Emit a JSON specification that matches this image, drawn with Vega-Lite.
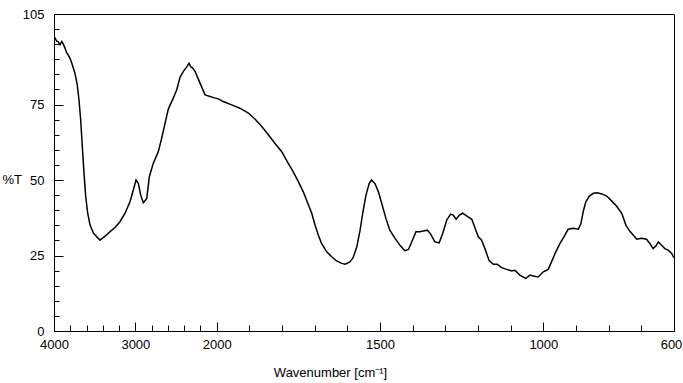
{
  "$schema": "https://vega.github.io/schema/vega-lite/v6.json",
  "width": 620,
  "height": 317,
  "autosize": "none",
  "padding": {"left": 54, "top": 14, "right": 9, "bottom": 52},
  "background": "white",
  "config": {
    "view": {"stroke": "black", "strokeWidth": 1},
    "font": "Liberation Sans",
    "axis": {"labelFont": "Liberation Sans", "titleFont": "Liberation Sans", "labelColor": "black", "titleColor": "black", "domainColor": "black", "tickColor": "black", "grid": false, "labelFontSize": 13, "titleFontSize": 13, "titleFontWeight": "normal", "labelOverlap": false, "labelFlush": false, "labelBound": false}
  },
  "data": {"values": [
    {"w": 4000, "t": 96.3}, {"w": 3988, "t": 97.0}, {"w": 3967, "t": 96.0}, {"w": 3947, "t": 95.8}, {"w": 3926, "t": 94.8}, {"w": 3905, "t": 95.9},
    {"w": 3886, "t": 95.0}, {"w": 3865, "t": 93.7}, {"w": 3844, "t": 92.1}, {"w": 3824, "t": 91.4}, {"w": 3803, "t": 90.3}, {"w": 3782, "t": 88.8},
    {"w": 3763, "t": 87.1}, {"w": 3742, "t": 85.3}, {"w": 3714, "t": 81.5}, {"w": 3693, "t": 76.6},
    {"w": 3672, "t": 69.9}, {"w": 3652, "t": 61.1}, {"w": 3631, "t": 52.2}, {"w": 3610, "t": 44.5}, {"w": 3586, "t": 39.0},
    {"w": 3557, "t": 35.1}, {"w": 3517, "t": 32.5}, {"w": 3475, "t": 31.2}, {"w": 3434, "t": 30.1}, {"w": 3373, "t": 31.4},
    {"w": 3311, "t": 32.9}, {"w": 3250, "t": 34.3}, {"w": 3189, "t": 36.2}, {"w": 3127, "t": 39.0}, {"w": 3066, "t": 42.8},
    {"w": 3025, "t": 46.7}, {"w": 2992, "t": 50.0}, {"w": 2964, "t": 48.9}, {"w": 2934, "t": 45.0}, {"w": 2902, "t": 42.5},
    {"w": 2860, "t": 43.9}, {"w": 2828, "t": 51.1}, {"w": 2779, "t": 55.6}, {"w": 2718, "t": 59.4}, {"w": 2676, "t": 63.9},
    {"w": 2635, "t": 68.8}, {"w": 2595, "t": 73.5}, {"w": 2533, "t": 77.2}, {"w": 2491, "t": 79.9}, {"w": 2451, "t": 84.0},
    {"w": 2410, "t": 86.0}, {"w": 2368, "t": 87.5}, {"w": 2340, "t": 88.7}, {"w": 2321, "t": 87.6}, {"w": 2295, "t": 87.1},
    {"w": 2266, "t": 86.0}, {"w": 2205, "t": 82.1}, {"w": 2143, "t": 78.2}, {"w": 2082, "t": 77.7}, {"w": 2040, "t": 77.3}, {"w": 1995, "t": 76.9},
    {"w": 1980, "t": 76.0}, {"w": 1954, "t": 74.9}, {"w": 1929, "t": 73.8}, {"w": 1903, "t": 72.2}, {"w": 1883, "t": 70.2},
    {"w": 1862, "t": 67.7}, {"w": 1842, "t": 65.0}, {"w": 1822, "t": 62.2}, {"w": 1801, "t": 59.4}, {"w": 1784, "t": 56.1},
    {"w": 1766, "t": 52.8}, {"w": 1750, "t": 49.5}, {"w": 1735, "t": 46.1}, {"w": 1723, "t": 42.8}, {"w": 1709, "t": 39.0},
    {"w": 1699, "t": 35.1}, {"w": 1689, "t": 31.8}, {"w": 1679, "t": 29.0}, {"w": 1663, "t": 26.2}, {"w": 1648, "t": 24.6},
    {"w": 1633, "t": 23.2}, {"w": 1617, "t": 22.4}, {"w": 1607, "t": 22.1}, {"w": 1592, "t": 22.9}, {"w": 1582, "t": 24.4},
    {"w": 1571, "t": 27.9}, {"w": 1561, "t": 33.4}, {"w": 1553, "t": 39.0}, {"w": 1543, "t": 45.0}, {"w": 1533, "t": 48.9},
    {"w": 1526, "t": 50.0}, {"w": 1515, "t": 48.7}, {"w": 1505, "t": 46.1}, {"w": 1495, "t": 42.3}, {"w": 1482, "t": 37.3},
    {"w": 1470, "t": 33.4}, {"w": 1454, "t": 30.7}, {"w": 1439, "t": 28.4}, {"w": 1424, "t": 26.6}, {"w": 1413, "t": 27.0},
    {"w": 1403, "t": 29.5}, {"w": 1390, "t": 32.9}, {"w": 1378, "t": 32.9}, {"w": 1368, "t": 33.1}, {"w": 1355, "t": 33.4},
    {"w": 1345, "t": 32.1}, {"w": 1332, "t": 29.5}, {"w": 1319, "t": 29.2}, {"w": 1308, "t": 32.3}, {"w": 1296, "t": 36.7},
    {"w": 1284, "t": 38.7}, {"w": 1276, "t": 38.4}, {"w": 1267, "t": 37.0}, {"w": 1257, "t": 38.4}, {"w": 1247, "t": 39.0},
    {"w": 1235, "t": 38.1}, {"w": 1219, "t": 37.0}, {"w": 1209, "t": 34.0}, {"w": 1199, "t": 31.2}, {"w": 1189, "t": 30.1},
    {"w": 1179, "t": 27.3}, {"w": 1166, "t": 23.3}, {"w": 1153, "t": 22.1}, {"w": 1141, "t": 22.1}, {"w": 1128, "t": 21.0},
    {"w": 1112, "t": 20.4}, {"w": 1097, "t": 19.9}, {"w": 1087, "t": 20.1}, {"w": 1072, "t": 18.5}, {"w": 1054, "t": 17.4},
    {"w": 1041, "t": 18.5}, {"w": 1031, "t": 18.2}, {"w": 1016, "t": 17.9}, {"w": 1000, "t": 19.6}, {"w": 985, "t": 20.4},
    {"w": 975, "t": 22.9}, {"w": 964, "t": 25.7}, {"w": 949, "t": 29.0}, {"w": 937, "t": 31.2}, {"w": 924, "t": 33.7},
    {"w": 908, "t": 34.0}, {"w": 893, "t": 33.7}, {"w": 885, "t": 35.6}, {"w": 878, "t": 39.5}, {"w": 870, "t": 42.8},
    {"w": 859, "t": 44.7}, {"w": 847, "t": 45.6}, {"w": 835, "t": 45.8}, {"w": 821, "t": 45.4}, {"w": 806, "t": 44.7},
    {"w": 791, "t": 43.1}, {"w": 776, "t": 41.4}, {"w": 760, "t": 39.0}, {"w": 747, "t": 35.0}, {"w": 735, "t": 33.0},
    {"w": 725, "t": 31.8}, {"w": 714, "t": 30.4}, {"w": 699, "t": 30.7}, {"w": 684, "t": 30.4}, {"w": 674, "t": 29.0},
    {"w": 664, "t": 27.3}, {"w": 655, "t": 28.2}, {"w": 648, "t": 29.5}, {"w": 638, "t": 28.4}, {"w": 628, "t": 27.3},
    {"w": 618, "t": 26.8}, {"w": 607, "t": 25.7}, {"w": 602, "t": 24.6}, {"w": 600, "t": 24.3}
  ]},
  "mark": {"type": "line", "color": "black", "strokeWidth": 1.5, "clip": true},
  "encoding": {
    "x": {
      "field": "w", "type": "quantitative",
      "scale": {"domain": [4000, 2000, 600], "range": [0, 162.7, 620], "nice": false, "zero": false},
      "axis": {
        "title": "Wavenumber [cm⁻¹]",
        "values": [4000, 3800, 3600, 3400, 3200, 3000, 2800, 2600, 2400, 2200, 2000, 1900, 1800, 1700, 1600, 1500, 1400, 1300, 1200, 1100, 1000, 900, 800, 700, 600],
        "labelExpr": "indexof([4000, 3000, 2000, 1500, 1000, 600], datum.value) >= 0 ? datum.label : ''",
        "format": "d",
        "tickSize": {"condition": {"test": "indexof([4000, 3000, 2000, 1500, 1000, 600], datum.value) >= 0", "value": -9}, "value": -6},
        "labelOffset": {"condition": {"test": "datum.value == 600", "value": -3}, "value": 0},
        "labelPadding": 16,
        "titleX": 276, "titleY": 41, "titleBaseline": "middle", "titleAnchor": "start", "titleAlign": "center"
      }
    },
    "y": {
      "field": "t", "type": "quantitative",
      "scale": {"domain": [0, 105], "nice": false, "zero": true},
      "axis": {
        "title": "%T",
        "values": [0, 5, 10, 15, 20, 25, 30, 35, 40, 45, 50, 55, 60, 65, 70, 75, 80, 85, 90, 95, 100, 105],
        "labelExpr": "indexof([0, 25, 50, 75, 105], datum.value) >= 0 ? datum.label : ''",
        "tickSize": {"condition": {"test": "indexof([0, 25, 50, 75, 105], datum.value) >= 0", "value": -9}, "value": -5},
        "labelPadding": 19,
        "titleAngle": 0, "titleX": -52, "titleY": 165, "titleAlign": "left", "titleBaseline": "middle", "titleAnchor": "start"
      }
    }
  }
}
